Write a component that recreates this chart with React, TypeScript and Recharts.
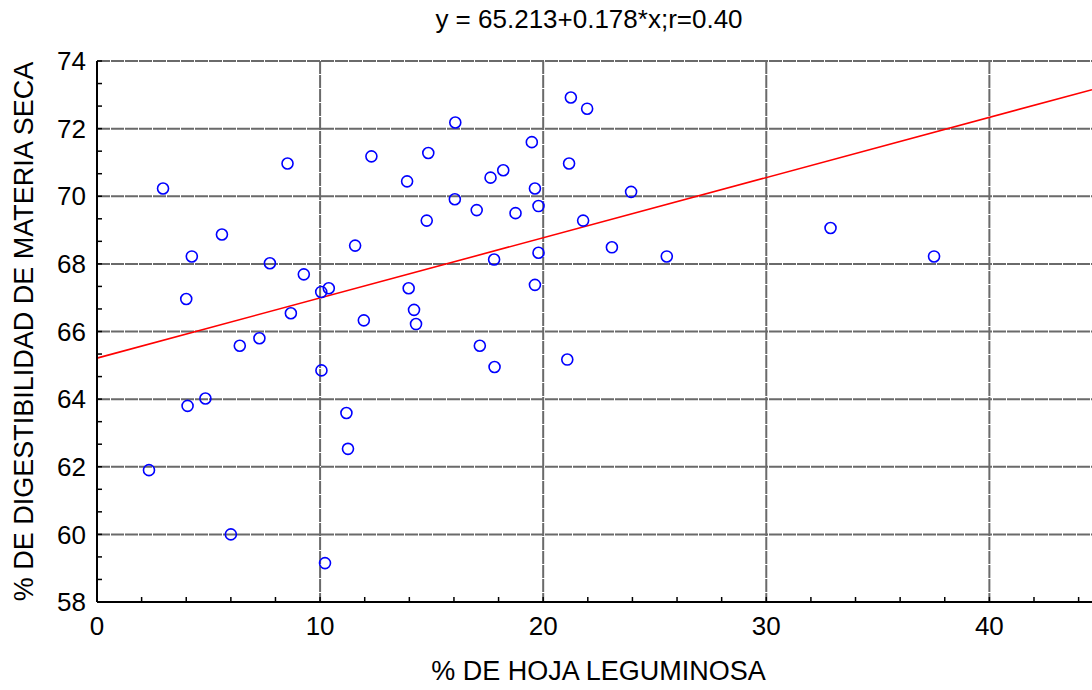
import {
  CartesianGrid,
  Label,
  ReferenceLine,
  Scatter,
  ScatterChart,
  XAxis,
  YAxis,
} from "recharts";

const FONT = "'Liberation Sans', Arial, sans-serif";

const TITLE = "y = 65.213+0.178*x;r=0.40";
const X_LABEL = "% DE HOJA LEGUMINOSA";
const Y_LABEL = "% DE DIGESTIBILIDAD DE MATERIA SECA";

// % hoja leguminosa
const hojaLeguminosa = [
  2.33, 2.96, 4.0, 4.06, 4.25, 4.86, 5.6, 6.0, 6.4, 7.28, 7.75, 8.54, 8.69, 9.27,
  10.05, 10.06, 10.22, 10.39, 11.18, 11.25, 11.57, 11.96, 12.3, 13.9, 13.97, 14.21,
  14.3, 14.78, 14.85, 16.04, 16.06, 17.02, 17.16, 17.64, 17.8, 17.82, 18.21, 18.76,
  19.49, 19.63, 19.63, 19.79, 19.79, 21.08, 21.16, 21.24, 21.79, 21.97, 23.08, 23.94,
  25.54, 32.88, 37.52,
];

// % digestibilidad de materia seca
const digestibilidad = [
  61.9, 70.23, 66.96, 63.8, 68.22, 64.02, 68.87, 60.0, 65.58, 65.8, 68.02, 70.97, 66.54, 67.69,
  67.17, 64.85, 59.15, 67.28, 63.59, 62.53, 68.54, 66.33, 71.18, 70.44, 67.28, 66.64,
  66.22, 69.28, 71.28, 69.91, 72.18, 69.59, 65.58, 70.55, 68.13, 64.95, 70.77, 69.5,
  71.6, 70.23, 67.38, 69.71, 68.33, 65.17, 70.97, 72.92, 69.28, 72.59, 68.49, 70.13,
  68.22, 69.06, 68.22,
];

const INTERCEPT = 65.213;
const SLOPE = 0.178;

const X_DOMAIN: [number, number] = [0, 44.6];
const Y_DOMAIN: [number, number] = [58, 74];
const X_TICKS = [0, 2, 4, 6, 8, 10, 12, 14, 16, 18, 20, 22, 24, 26, 28, 30, 32, 34, 36, 38, 40, 42, 44];
const X_GRID = [10, 20, 30, 40];
const Y_GRID = [60, 62, 64, 66, 68, 70, 72, 74];
const Y_TICKS = Array.from({ length: 25 }, (_, i) => 58 + (i * 2) / 3);

const points = hojaLeguminosa.map((x, i) => ({ x, y: digestibilidad[i] }));

const fitStart = { x: X_DOMAIN[0], y: INTERCEPT + SLOPE * X_DOMAIN[0] };
const fitEnd = { x: X_DOMAIN[1], y: INTERCEPT + SLOPE * X_DOMAIN[1] };

function xTickLabel(v: number) {
  return v % 10 === 0 ? String(v) : "";
}

function yTickLabel(v: number) {
  const r = Math.round(v);
  return Math.abs(v - r) < 1e-6 && r % 2 === 0 ? String(r) : "";
}

function OpenCircle(props: { cx?: number; cy?: number }) {
  const { cx, cy } = props;
  if (cx == null || cy == null) return <g />;
  return <circle cx={cx} cy={cy} r={5.5} fill="none" stroke="#0000ff" strokeWidth={1.6} />;
}

export default function App() {
  return (
    <div style={{ position: "absolute", left: 0, top: 0, width: 1092, height: 690, background: "#fff" }}>
      <div
        style={{
          position: "absolute",
          left: 43,
          top: 6,
          width: 1092,
          textAlign: "center",
          fontFamily: FONT,
          fontSize: 26,
          lineHeight: "26px",
          color: "#000",
        }}
      >
        {TITLE}
      </div>
      <ScatterChart
        width={1092}
        height={690}
        margin={{ top: 61, right: 0, bottom: 28, left: 37 }}
        style={{ fontFamily: FONT }}
      >
        <CartesianGrid
          stroke="#6a6a6a"
          strokeWidth={2}
          strokeDasharray="13 1"
          verticalValues={X_GRID}
          horizontalValues={Y_GRID}
        />
        <XAxis
          type="number"
          dataKey="x"
          domain={X_DOMAIN}
          allowDataOverflow
          ticks={X_TICKS}
          interval={0}
          tickFormatter={xTickLabel}
          tickSize={-5}
          tickMargin={20}
          height={60}
          axisLine={{ stroke: "#000", strokeWidth: 2 }}
          tickLine={{ stroke: "#000", strokeWidth: 1.5 }}
          tick={{ fill: "#000", fontSize: 26 }}
        >
          <Label
            content={(p: any) => {
              const vb = p.viewBox;
              return (
                <text
                  x={vb.x + vb.width / 2 + 4}
                  y={vb.y + 78}
                  textAnchor="middle"
                  fontSize={27}
                  fill="#000"
                  fontFamily={FONT}
                >
                  {X_LABEL}
                </text>
              );
            }}
          />
        </XAxis>
        <XAxis
          xAxisId="top"
          orientation="top"
          type="number"
          dataKey="x"
          domain={X_DOMAIN}
          allowDataOverflow
          ticks={X_TICKS}
          interval={0}
          tick={false}
          tickSize={-5}
          height={0}
          axisLine={{ stroke: "#000", strokeWidth: 2 }}
          tickLine={{ stroke: "#000", strokeWidth: 1.5 }}
        />
        <YAxis
          type="number"
          dataKey="y"
          domain={Y_DOMAIN}
          allowDataOverflow
          ticks={Y_TICKS}
          interval={0}
          tickFormatter={yTickLabel}
          tickSize={-5}
          tickMargin={16}
          width={60}
          axisLine={{ stroke: "#000", strokeWidth: 2 }}
          tickLine={{ stroke: "#000", strokeWidth: 1.5 }}
          tick={{ fill: "#000", fontSize: 26 }}
        >
          <Label
            content={(p: any) => {
              const vb = p.viewBox;
              const cy = vb.y + vb.height / 2;
              return (
                <text
                  x={33}
                  y={cy}
                  transform={`rotate(-90, 33, ${cy})`}
                  textAnchor="middle"
                  fontSize={27}
                  fill="#000"
                  fontFamily={FONT}
                >
                  {Y_LABEL}
                </text>
              );
            }}
          />
        </YAxis>
        <ReferenceLine
          segment={[fitStart, fitEnd]}
          stroke="#ff0000"
          strokeWidth={1.6}
          ifOverflow="visible"
        />
        <Scatter data={points} shape={OpenCircle} isAnimationActive={false} />
      </ScatterChart>
    </div>
  );
}
